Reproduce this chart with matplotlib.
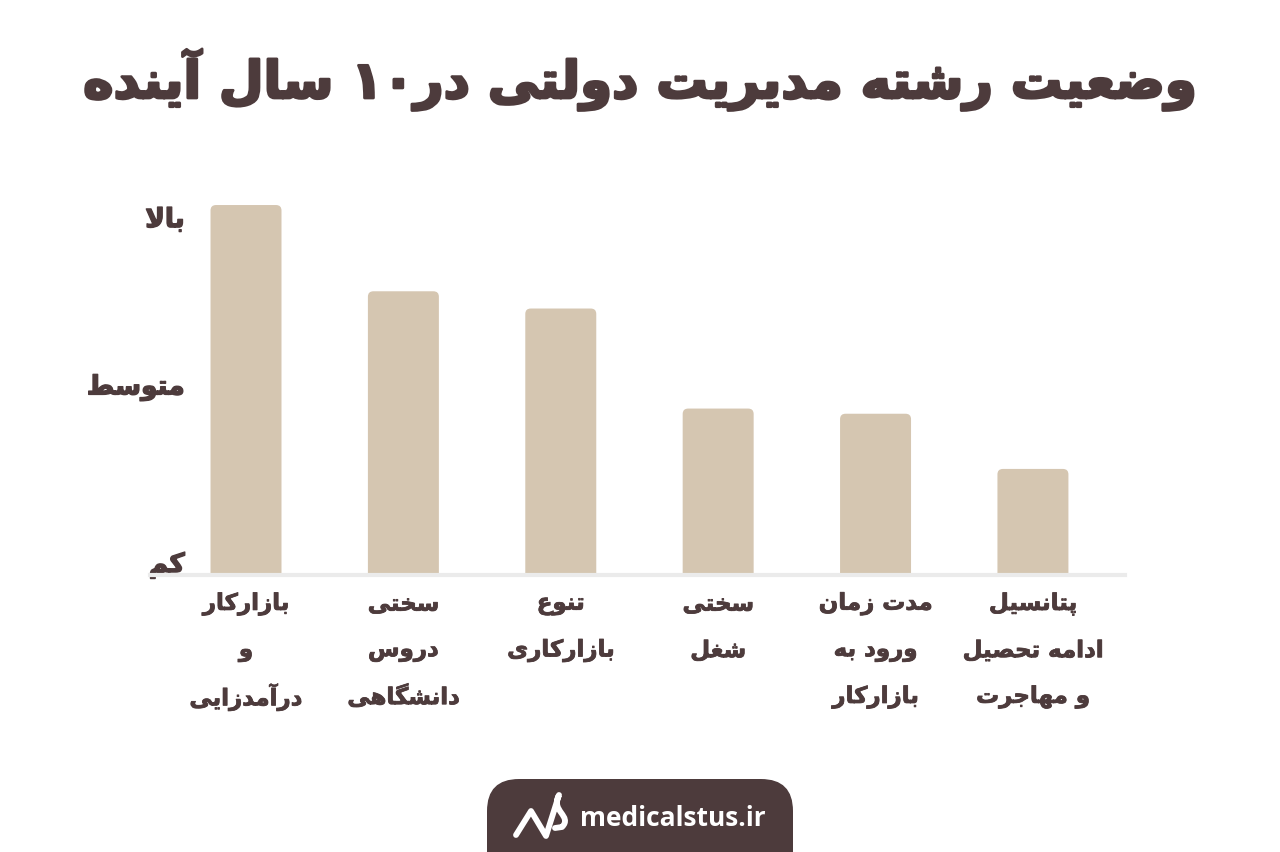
import re

import matplotlib
matplotlib.use("Agg")
import matplotlib.pyplot as plt
import matplotlib.patheffects as pe
from matplotlib.patches import FancyBboxPatch, PathPatch
from matplotlib.path import Path as MPath

# --- data -------------------------------------------------------------
TITLE = "وضعیت رشته مدیریت دولتی در۱۰ سال آینده"
CATEGORIES = [
    "بازارکار\nو\nدرآمدزایی",
    "سختی\nدروس\nدانشگاهی",
    "تنوع\nبازارکاری",
    "سختی\nشغل",
    "مدت زمان\nورود به\nبازارکار",
    "پتانسیل\nادامه تحصیل\nو مهاجرت",
]
VALUES = [3.07, 2.57, 2.47, 1.89, 1.86, 1.54]   # 1 = کم, 2 = متوسط, 3 = بالا
LEVEL_TICKS = [1.0, 2.03, 3.0]
LEVEL_LABELS = ["کم", "متوسط", "بالا"]
FOOTER = "medicalstus.ir"

TEXT = "#4d3b3c"
BAR = "#d5c6b1"

# --- tiny Persian shaper (matplotlib has no Arabic shaping / bidi) -----
FORMS = {  # isolated, final, initial, medial
    "ا": (0xFE8D, 0xFE8E, None, None), "آ": (0xFE81, 0xFE82, None, None),
    "د": (0xFEA9, 0xFEAA, None, None), "ر": (0xFEAD, 0xFEAE, None, None),
    "ز": (0xFEAF, 0xFEB0, None, None), "و": (0xFEED, 0xFEEE, None, None),
    "ب": (0xFE8F, 0xFE90, 0xFE91, 0xFE92), "پ": (0xFB56, 0xFB57, 0xFB58, 0xFB59),
    "ت": (0xFE95, 0xFE96, 0xFE97, 0xFE98), "ج": (0xFE9D, 0xFE9E, 0xFE9F, 0xFEA0),
    "ح": (0xFEA1, 0xFEA2, 0xFEA3, 0xFEA4), "خ": (0xFEA5, 0xFEA6, 0xFEA7, 0xFEA8),
    "س": (0xFEB1, 0xFEB2, 0xFEB3, 0xFEB4), "ش": (0xFEB5, 0xFEB6, 0xFEB7, 0xFEB8),
    "ص": (0xFEB9, 0xFEBA, 0xFEBB, 0xFEBC), "ض": (0xFEBD, 0xFEBE, 0xFEBF, 0xFEC0),
    "ط": (0xFEC1, 0xFEC2, 0xFEC3, 0xFEC4), "ع": (0xFEC9, 0xFECA, 0xFECB, 0xFECC),
    "غ": (0xFECD, 0xFECE, 0xFECF, 0xFED0), "ک": (0xFB8E, 0xFB8F, 0xFB90, 0xFB91),
    "گ": (0xFB92, 0xFB93, 0xFB94, 0xFB95), "ل": (0xFEDD, 0xFEDE, 0xFEDF, 0xFEE0),
    "م": (0xFEE1, 0xFEE2, 0xFEE3, 0xFEE4), "ن": (0xFEE5, 0xFEE6, 0xFEE7, 0xFEE8),
    "ه": (0xFEE9, 0xFEEA, 0xFEEB, 0xFEEC), "ی": (0xFBFC, 0xFBFD, 0xFBFE, 0xFBFF),
}
LAM_ALEF = {"ا": (0xFEFB, 0xFEFC), "آ": (0xFEF5, 0xFEF6)}


def joins_left(ch):
    return ch in FORMS and FORMS[ch][2] is not None


def shape_line(s):
    out, i = [], 0
    while i < len(s):
        ch = s[i]
        prev = s[i - 1] if i > 0 else ""
        after = joins_left(prev)
        if ch == "ل" and i + 1 < len(s) and s[i + 1] in LAM_ALEF:
            out.append(chr(LAM_ALEF[s[i + 1]][1 if after else 0]))
            i += 2
            continue
        if ch not in FORMS:
            out.append(ch)
            i += 1
            continue
        nxt = s[i + 1] if i + 1 < len(s) else ""
        before = joins_left(ch) and nxt in FORMS
        iso, fin, ini, med = FORMS[ch]
        code = med if (after and before) else fin if after else ini if before else iso
        out.append(chr(code))
        i += 1
    vis = "".join(out)[::-1]
    return re.sub(r"[۰-۹0-9]+", lambda m: m.group(0)[::-1], vis)


def fa(s):
    return "\n".join(shape_line(line) for line in s.split("\n"))


# --- figure -----------------------------------------------------------
plt.rcParams["font.family"] = ["DejaVu Sans"]
fig = plt.figure(figsize=(12.8, 8.53), dpi=100)
fig.patch.set_facecolor("white")
bold = [pe.withStroke(linewidth=1.0, foreground=TEXT)]

ax = fig.add_axes([150 / 1280, (853 - 576) / 853, 975 / 1280, 376 / 853])
x = list(range(len(VALUES)))
bars = ax.bar(x, VALUES, width=0.451, color=BAR, zorder=2)
for b in bars:
    b.set_visible(False)
    ax.add_patch(FancyBboxPatch((b.get_x(), b.get_y()), b.get_width(), b.get_height(),
                                boxstyle="round,pad=0,rounding_size=0.035",
                                mutation_aspect=0.9, fc=BAR, ec="none", zorder=2))

ax.set_xlim(-0.610, 5.585)
ax.set_ylim(0.925, 3.105)
for s in ("top", "right", "left"):
    ax.spines[s].set_visible(False)
ax.spines["bottom"].set_color("#ebebeb")
ax.spines["bottom"].set_linewidth(3)
ax.spines["bottom"].set_zorder(3)

ax.set_yticks(LEVEL_TICKS, [fa(t) for t in LEVEL_LABELS])
ax.tick_params(axis="y", length=0, pad=-25, labelsize=19, labelcolor=TEXT)
for t in ax.get_yticklabels():
    t.set_fontweight("bold")
    t.set_path_effects(bold)

# category labels: one text per line so the rows are evenly spaced
ax.set_xticks(x, [""] * len(x))
ax.tick_params(axis="x", length=0)
for xi, cat in zip(x, CATEGORIES):
    for row, line in enumerate(cat.split("\n")):
        ax.annotate(fa(line), (xi, 0), xycoords=("data", "axes fraction"),
                    xytext=(0, -21 - 33.5 * row), textcoords="offset points",
                    ha="center", va="center", fontsize=16.5, fontweight="bold",
                    color=TEXT, path_effects=[pe.withStroke(linewidth=0.6, foreground=TEXT)])

# overlay in pixel units for title and footer
ov = fig.add_axes([0, 0, 1, 1], zorder=5)
ov.set_xlim(0, 1280)
ov.set_ylim(853, 0)
ov.axis("off")

ov.text(640, 81, fa(TITLE), ha="center", va="center", fontsize=37,
        fontweight="bold", color=TEXT,
        path_effects=[pe.withStroke(linewidth=2, foreground=TEXT)])

ov.add_patch(FancyBboxPatch((487, 780), 306, 120, boxstyle="round,pad=0,rounding_size=32",
                            fc=TEXT, ec="none"))
ov.text(580, 819, FOOTER, ha="left", va="center", fontsize=19, fontweight="bold",
        family="Open Sans", color="white")
logo = MPath([(516, 836), (531, 812), (546, 837), (559, 796),
              (550, 812), (573, 817), (562, 828), (555, 829)],
             [MPath.MOVETO, MPath.LINETO, MPath.LINETO, MPath.LINETO,
              MPath.CURVE4, MPath.CURVE4, MPath.CURVE4, MPath.LINETO])
ov.add_patch(PathPatch(logo, fc="none", ec="white", lw=4.2, capstyle="round",
                       joinstyle="round"))

fig.savefig("out.png", dpi=100, facecolor="white")
